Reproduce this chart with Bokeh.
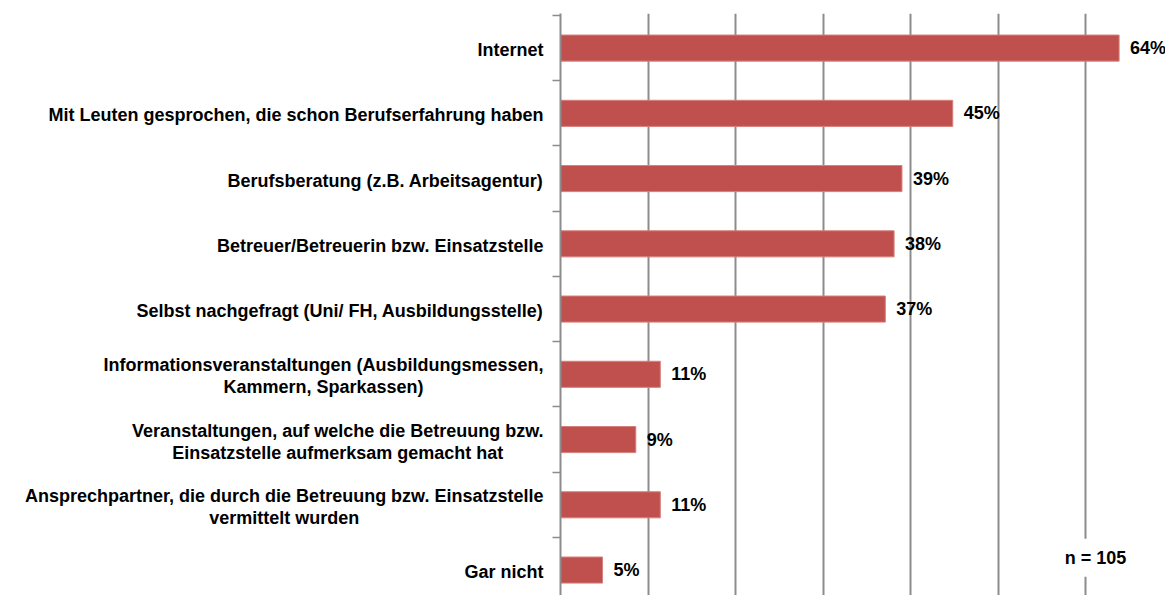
from bokeh.plotting import figure
from bokeh.models import Range1d, FixedTicker, ColumnDataSource, Label, CustomLabelingPolicy
from bokeh.layouts import row
from bokeh.core.properties import value
from bokeh.embed import file_html
from bokeh.resources import INLINE

categories = [
    "Internet",
    "Mit Leuten gesprochen, die schon Berufserfahrung haben",
    "Berufsberatung (z.B. Arbeitsagentur)",
    "Betreuer/Betreuerin bzw. Einsatzstelle",
    "Selbst nachgefragt (Uni/ FH, Ausbildungsstelle)",
    "Informationsveranstaltungen (Ausbildungsmessen,\nKammern, Sparkassen)",
    "Veranstaltungen, auf welche die Betreuung bzw.\nEinsatzstelle aufmerksam gemacht hat",
    "Ansprechpartner, die durch die Betreuung bzw. Einsatzstelle\nvermittelt wurden",
    "Gar nicht",
]
values = [63.8, 44.8, 39.0, 38.1, 37.1, 11.4, 8.6, 11.4, 4.8]
value_labels = ["64%", "45%", "39%", "38%", "37%", "11%", "9%", "11%", "5%"]
grid_ticks = [10, 20, 30, 40, 50, 60]
sample_note = "n = 105"

n = len(categories)
ypos = [n - 1 - i + 0.5 for i in range(n)]
boundaries = list(range(0, n + 1))

FONT = "Liberation Sans"
GRAY = "#8c8c8c"
RED = "#c0504d"
FS = "18px"

src = ColumnDataSource(dict(y=ypos, cat=categories, v=values, lab=value_labels))

yr = Range1d(0.11, 9.03)
H = 595
LW = 548
TOP = 13

left = figure(width=LW, height=H, x_range=Range1d(0, 1), y_range=yr,
              output_backend="svg", toolbar_location=None, tools="",
              min_border_left=0, min_border_right=0, min_border_top=TOP, min_border_bottom=0)
left.axis.visible = False
left.grid.visible = False
left.outline_line_color = None
left.text(x=1, y="y", text="cat", source=src, x_offset=-5, y_offset=2,
          anchor="center_right", text_align="center", text_baseline="middle",
          text_font=value(FONT), text_font_style="bold", text_font_size=FS,
          text_color="black", text_line_height=1.1)

p = figure(width=1165 - LW, height=H, x_range=Range1d(0, 69.1), y_range=yr,
           output_backend="svg", toolbar_location=None, tools="",
           min_border_left=0, min_border_right=0, min_border_top=TOP, min_border_bottom=0)
p.outline_line_color = None
p.xaxis.visible = False
p.ygrid.visible = False
p.xgrid.ticker = FixedTicker(ticks=grid_ticks)
p.xgrid.grid_line_color = GRAY
p.xgrid.grid_line_width = 2

p.yaxis.ticker = FixedTicker(ticks=boundaries)
p.yaxis.axis_line_color = GRAY
p.yaxis.axis_line_width = 2
p.yaxis.major_tick_line_color = GRAY
p.yaxis.major_tick_line_width = 1.5
p.yaxis.major_tick_out = 8
p.yaxis.major_tick_in = 0
p.yaxis.minor_tick_line_color = None
p.yaxis.major_label_standoff = 0
p.yaxis.major_label_text_font_size = "1px"
p.yaxis.major_label_policy = CustomLabelingPolicy(
    code="for (const i of indices) { if (i < 0) yield i }")

p.hbar(y="y", left=0, right="v", height=0.4, source=src,
       fill_color=RED, line_color="#d6807d", line_width=1)
p.text(x="v", y="y", text="lab", source=src, x_offset=11,
       text_align="left", text_baseline="middle",
       text_font=value(FONT), text_font_style="bold", text_font_size=FS,
       text_color="black")

p.add_layout(Label(x=61.1, y=0.69, text=sample_note, text_align="center",
                   text_baseline="middle", text_font=FONT, text_font_style="bold",
                   text_font_size=FS, text_color="black",
                   background_fill_color="white", padding=9))

layout = row(left, p)
open("out.html", "w").write(file_html(layout, INLINE))
